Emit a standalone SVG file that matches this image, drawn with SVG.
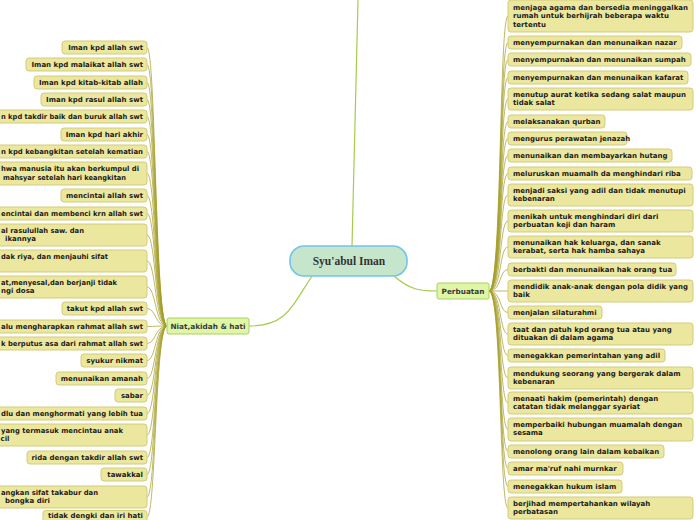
<svg xmlns="http://www.w3.org/2000/svg" width="696" height="520" viewBox="0 0 696 520">
<style>
.c{fill:#ece79e;stroke:#d3cb7a;stroke-width:1}
.t{font-family:"DejaVu Sans",Verdana,sans-serif;font-weight:bold;font-size:7px;fill:#1c1c1c}
.e{text-anchor:end}
.b{fill:#e0f6a7;stroke:#a9d05c;stroke-width:1}
.bt{font-family:"DejaVu Sans",Verdana,sans-serif;font-weight:bold;font-size:7.3px;fill:#3a3a3a;text-anchor:middle}
.k{fill:none;stroke:#a59d28;stroke-width:0.9;stroke-opacity:0.8}
.m{fill:none;stroke:#a6cb4c;stroke-width:1.2}
</style>
<rect width="696" height="520" fill="#ffffff"/>
<g id="connectors">
<path class="m" d="M352,246 C354,150 357,60 358,0"/>
<path class="m" d="M394,276 C410,290 420,291 437,291"/>
<path class="m" d="M312,276 C290,310 285,326 249,326"/>
<path class="k" d="M147,47.5 C156,47.5 155,326 167,326"/>
<path class="k" d="M147,64.5 C156,64.5 155,326 167,326"/>
<path class="k" d="M147,82.5 C156,82.5 155,326 167,326"/>
<path class="k" d="M147,99.5 C156,99.5 155,326 167,326"/>
<path class="k" d="M147,116.5 C156,116.5 155,326 167,326"/>
<path class="k" d="M147,134.5 C156,134.5 155,326 167,326"/>
<path class="k" d="M147,151.5 C156,151.5 155,326 167,326"/>
<path class="k" d="M147,173.5 C156,173.5 155,326 167,326"/>
<path class="k" d="M147,195.5 C156,195.5 155,326 167,326"/>
<path class="k" d="M147,213.5 C156,213.5 155,326 167,326"/>
<path class="k" d="M147,235 C156,235 155,326 167,326"/>
<path class="k" d="M147,261 C156,261 155,326 167,326"/>
<path class="k" d="M147,287 C156,287 155,326 167,326"/>
<path class="k" d="M147,308.5 C156,308.5 155,326 167,326"/>
<path class="k" d="M147,326.5 C156,326.5 155,326 167,326"/>
<path class="k" d="M147,343.5 C156,343.5 155,326 167,326"/>
<path class="k" d="M147,360.5 C156,360.5 155,326 167,326"/>
<path class="k" d="M147,378.5 C156,378.5 155,326 167,326"/>
<path class="k" d="M147,395.5 C156,395.5 155,326 167,326"/>
<path class="k" d="M147,413.5 C156,413.5 155,326 167,326"/>
<path class="k" d="M147,435 C156,435 155,326 167,326"/>
<path class="k" d="M147,457.5 C156,457.5 155,326 167,326"/>
<path class="k" d="M147,474.5 C156,474.5 155,326 167,326"/>
<path class="k" d="M147,497 C156,497 155,326 167,326"/>
<path class="k" d="M147,517 C156,517 155,326 167,326"/>
<path class="k" d="M489,291 C502,291 499,16 508,16"/>
<path class="k" d="M489,291 C502,291 499,42.5 508,42.5"/>
<path class="k" d="M489,291 C502,291 499,59.5 508,59.5"/>
<path class="k" d="M489,291 C502,291 499,77.5 508,77.5"/>
<path class="k" d="M489,291 C502,291 499,99 508,99"/>
<path class="k" d="M489,291 C502,291 499,121.5 508,121.5"/>
<path class="k" d="M489,291 C502,291 499,138.5 508,138.5"/>
<path class="k" d="M489,291 C502,291 499,155.5 508,155.5"/>
<path class="k" d="M489,291 C502,291 499,173.5 508,173.5"/>
<path class="k" d="M489,291 C502,291 499,195 508,195"/>
<path class="k" d="M489,291 C502,291 499,221 508,221"/>
<path class="k" d="M489,291 C502,291 499,247 508,247"/>
<path class="k" d="M489,291 C502,291 499,269.5 508,269.5"/>
<path class="k" d="M489,291 C502,291 499,291 508,291"/>
<path class="k" d="M489,291 C502,291 499,312.5 508,312.5"/>
<path class="k" d="M489,291 C502,291 499,334 508,334"/>
<path class="k" d="M489,291 C502,291 499,355.5 508,355.5"/>
<path class="k" d="M489,291 C502,291 499,378 508,378"/>
<path class="k" d="M489,291 C502,291 499,403 508,403"/>
<path class="k" d="M489,291 C502,291 499,429.5 508,429.5"/>
<path class="k" d="M489,291 C502,291 499,451.5 508,451.5"/>
<path class="k" d="M489,291 C502,291 499,468.5 508,468.5"/>
<path class="k" d="M489,291 C502,291 499,486.5 508,486.5"/>
<path class="k" d="M489,291 C502,291 499,508 508,508"/>
</g>
<g id="center">
<rect x="290" y="246" width="117" height="30" rx="14" fill="#c6e6cc" stroke="#74c3ea" stroke-width="1.6"/>
<text x="349" y="265" text-anchor="middle" font-family="'Liberation Serif','DejaVu Serif',serif" font-weight="bold" font-size="11.5" fill="#333">Syu'abul Iman</text>
</g>
<g id="perbuatan">
<rect class="b" x="437" y="283" width="52" height="16" rx="2"/>
<text class="bt" x="463" y="294">Perbuatan</text>
</g>
<g id="niat">
<rect class="b" x="167" y="318" width="82" height="16" rx="2"/>
<text class="bt" x="208" y="329">Niat,akidah &amp; hati</text>
</g>
<g id="l1"><rect class="c" x="62" y="41" width="85" height="13" rx="3"/><text class="t e" x="143" y="50.3">Iman kpd allah swt</text></g>
<g id="l2"><rect class="c" x="26" y="58" width="121" height="13" rx="3"/><text class="t e" x="143" y="67.3">Iman kpd malaikat allah swt</text></g>
<g id="l3"><rect class="c" x="34" y="76" width="113" height="13" rx="3"/><text class="t e" x="143" y="85.3">Iman kpd kitab-kitab allah</text></g>
<g id="l4"><rect class="c" x="41" y="93" width="106" height="13" rx="3"/><text class="t e" x="143" y="102.3">Iman kpd rasul allah swt</text></g>
<g id="l5"><rect class="c" x="-5" y="110" width="152" height="13" rx="3"/><text class="t" x="1" y="119.3" textLength="142" lengthAdjust="spacingAndGlyphs">n kpd takdir baik dan buruk allah swt</text></g>
<g id="l6"><rect class="c" x="61" y="128" width="86" height="13" rx="3"/><text class="t e" x="143" y="137.3">Iman kpd hari akhir</text></g>
<g id="l7"><rect class="c" x="-5" y="145" width="152" height="13" rx="3"/><text class="t" x="1" y="154.3" textLength="142" lengthAdjust="spacingAndGlyphs">n kpd kebangkitan setelah kematian</text></g>
<g id="l8"><rect class="c" x="-5" y="162" width="152" height="23" rx="3"/><text class="t" x="1" y="171" textLength="138" lengthAdjust="spacingAndGlyphs">hwa manusia itu akan berkumpul di</text><text class="t" x="3" y="179.7" textLength="123" lengthAdjust="spacingAndGlyphs">mahsyar setelah hari keangkitan</text></g>
<g id="l9"><rect class="c" x="61" y="189" width="86" height="13" rx="3"/><text class="t e" x="143" y="198.3">mencintai allah swt</text></g>
<g id="l10"><rect class="c" x="-5" y="207" width="152" height="13" rx="3"/><text class="t" x="1" y="216.3" textLength="142" lengthAdjust="spacingAndGlyphs">encintai dan membenci krn allah swt</text></g>
<g id="l11"><rect class="c" x="-5" y="224" width="152" height="22" rx="3"/><text class="t" x="1" y="232.7" textLength="83" lengthAdjust="spacingAndGlyphs">al rasulullah saw. dan</text><text class="t" x="5" y="241.4">ikannya</text></g>
<g id="l12"><rect class="c" x="-5" y="250" width="152" height="22" rx="3"/><text class="t" x="1" y="258.7" textLength="107" lengthAdjust="spacingAndGlyphs">dak riya, dan menjauhi sifat</text></g>
<g id="l13"><rect class="c" x="-5" y="276" width="152" height="22" rx="3"/><text class="t" x="1" y="284.7" textLength="116" lengthAdjust="spacingAndGlyphs">at,menyesal,dan berjanji tidak</text><text class="t" x="1" y="293.4">ngi dosa</text></g>
<g id="l14"><rect class="c" x="62" y="302" width="85" height="13" rx="3"/><text class="t e" x="143" y="311.3">takut kpd allah swt</text></g>
<g id="l15"><rect class="c" x="-5" y="320" width="152" height="13" rx="3"/><text class="t" x="1" y="329.3" textLength="142" lengthAdjust="spacingAndGlyphs">alu mengharapkan rahmat allah swt</text></g>
<g id="l16"><rect class="c" x="-5" y="337" width="152" height="13" rx="3"/><text class="t" x="1" y="346.3" textLength="142" lengthAdjust="spacingAndGlyphs">k berputus asa dari rahmat allah swt</text></g>
<g id="l17"><rect class="c" x="81" y="354" width="66" height="13" rx="3"/><text class="t e" x="143" y="363.3">syukur nikmat</text></g>
<g id="l18"><rect class="c" x="56" y="372" width="91" height="13" rx="3"/><text class="t e" x="143" y="381.3">menunaikan amanah</text></g>
<g id="l19"><rect class="c" x="115" y="389" width="32" height="13" rx="3"/><text class="t e" x="143" y="398.3">sabar</text></g>
<g id="l20"><rect class="c" x="-5" y="407" width="152" height="13" rx="3"/><text class="t" x="1" y="416.3" textLength="142" lengthAdjust="spacingAndGlyphs">dlu dan menghormati yang lebih tua</text></g>
<g id="l21"><rect class="c" x="-5" y="424" width="152" height="22" rx="3"/><text class="t" x="1" y="432.7" textLength="122" lengthAdjust="spacingAndGlyphs">yang termasuk mencintau anak</text><text class="t" x="0.5" y="441.4">cil</text></g>
<g id="l22"><rect class="c" x="27" y="451" width="120" height="13" rx="3"/><text class="t e" x="143" y="460.3">rida dengan takdir allah swt</text></g>
<g id="l23"><rect class="c" x="101" y="468" width="46" height="13" rx="3"/><text class="t e" x="143" y="477.3">tawakkal</text></g>
<g id="l24"><rect class="c" x="-5" y="486" width="152" height="22" rx="3"/><text class="t" x="1" y="494.7" textLength="97" lengthAdjust="spacingAndGlyphs">angkan sifat takabur dan</text><text class="t" x="5" y="503.4">bongka diri</text></g>
<g id="l25"><rect class="c" x="43" y="510.5" width="104" height="13" rx="3"/><text class="t e" x="143" y="517.8">tidak dengki dan iri hati</text></g>
<g id="r1"><rect class="c" x="508" y="0" width="185" height="32" rx="3"/><text class="t" x="513" y="9.5">menjaga agama dan bersedia meninggalkan</text><text class="t" x="513" y="18.2">rumah untuk berhijrah beberapa waktu</text><text class="t" x="513" y="26.9">tertentu</text></g>
<g id="r2"><rect class="c" x="508" y="36" width="174" height="13" rx="3"/><text class="t" x="513" y="45.3">menyempurnakan dan menunaikan nazar</text></g>
<g id="r3"><rect class="c" x="508" y="53" width="183" height="13" rx="3"/><text class="t" x="513" y="62.3">menyempurnakan dan menunaikan sumpah</text></g>
<g id="r4"><rect class="c" x="508" y="71" width="180" height="13" rx="3"/><text class="t" x="513" y="80.3">menyempurnakan dan menunaikan kafarat</text></g>
<g id="r5"><rect class="c" x="508" y="88" width="185" height="22" rx="3"/><text class="t" x="513" y="96.7">menutup aurat ketika sedang salat maupun</text><text class="t" x="513" y="105.4">tidak salat</text></g>
<g id="r6"><rect class="c" x="508" y="115" width="97" height="13" rx="3"/><text class="t" x="513" y="124.3">melaksanakan qurban</text></g>
<g id="r7"><rect class="c" x="508" y="132" width="119" height="13" rx="3"/><text class="t" x="513" y="141.3">mengurus perawatan jenazah</text></g>
<g id="r8"><rect class="c" x="508" y="149" width="164" height="13" rx="3"/><text class="t" x="513" y="158.3">menunaikan dan membayarkan hutang</text></g>
<g id="r9"><rect class="c" x="508" y="167" width="184" height="13" rx="3"/><text class="t" x="513" y="176.3">meluruskan muamalh da menghindari riba</text></g>
<g id="r10"><rect class="c" x="508" y="184" width="185" height="22" rx="3"/><text class="t" x="513" y="192.7">menjadi saksi yang adil dan tidak menutupi</text><text class="t" x="513" y="201.4">kebenaran</text></g>
<g id="r11"><rect class="c" x="508" y="210" width="185" height="22" rx="3"/><text class="t" x="513" y="218.7">menikah untuk menghindari diri dari</text><text class="t" x="513" y="227.4">perbuatan keji dan haram</text></g>
<g id="r12"><rect class="c" x="508" y="236" width="185" height="22" rx="3"/><text class="t" x="513" y="244.7">menunaikan hak keluarga, dan sanak</text><text class="t" x="513" y="253.4">kerabat, serta hak hamba sahaya</text></g>
<g id="r13"><rect class="c" x="508" y="263" width="168" height="13" rx="3"/><text class="t" x="513" y="272.3">berbakti dan menunaikan hak orang tua</text></g>
<g id="r14"><rect class="c" x="508" y="280" width="185" height="22" rx="3"/><text class="t" x="513" y="288.7">mendidik anak-anak dengan pola didik yang</text><text class="t" x="513" y="297.4">baik</text></g>
<g id="r15"><rect class="c" x="508" y="306" width="94" height="13" rx="3"/><text class="t" x="513" y="315.3">menjalan silaturahmi</text></g>
<g id="r16"><rect class="c" x="508" y="323" width="185" height="22" rx="3"/><text class="t" x="513" y="331.7">taat dan patuh kpd orang tua atau yang</text><text class="t" x="513" y="340.4">dituakan di dalam agama</text></g>
<g id="r17"><rect class="c" x="508" y="349" width="157" height="13" rx="3"/><text class="t" x="513" y="358.3">menegakkan pemerintahan yang adil</text></g>
<g id="r18"><rect class="c" x="508" y="367" width="185" height="22" rx="3"/><text class="t" x="513" y="375.7">mendukung seorang yang bergerak dalam</text><text class="t" x="513" y="384.4">kebenaran</text></g>
<g id="r19"><rect class="c" x="508" y="392" width="185" height="22" rx="3"/><text class="t" x="513" y="400.7">menaati hakim (pemerintah) dengan</text><text class="t" x="513" y="409.4">catatan tidak melanggar syariat</text></g>
<g id="r20"><rect class="c" x="508" y="418" width="185" height="23" rx="3"/><text class="t" x="513" y="426.7">memperbaiki hubungan muamalah dengan</text><text class="t" x="513" y="435.4">sesama</text></g>
<g id="r21"><rect class="c" x="508" y="445" width="156" height="13" rx="3"/><text class="t" x="513" y="454.3">menolong orang lain dalam kebaikan</text></g>
<g id="r22"><rect class="c" x="508" y="462" width="115" height="13" rx="3"/><text class="t" x="513" y="471.3">amar ma'ruf nahi murnkar</text></g>
<g id="r23"><rect class="c" x="508" y="480" width="114" height="13" rx="3"/><text class="t" x="513" y="489.3">menegakkan hukum islam</text></g>
<g id="r24"><rect class="c" x="508" y="497" width="185" height="22" rx="3"/><text class="t" x="513" y="505.7">berjihad mempertahankan wilayah</text><text class="t" x="513" y="514.4">perbatasan</text></g>
</svg>
